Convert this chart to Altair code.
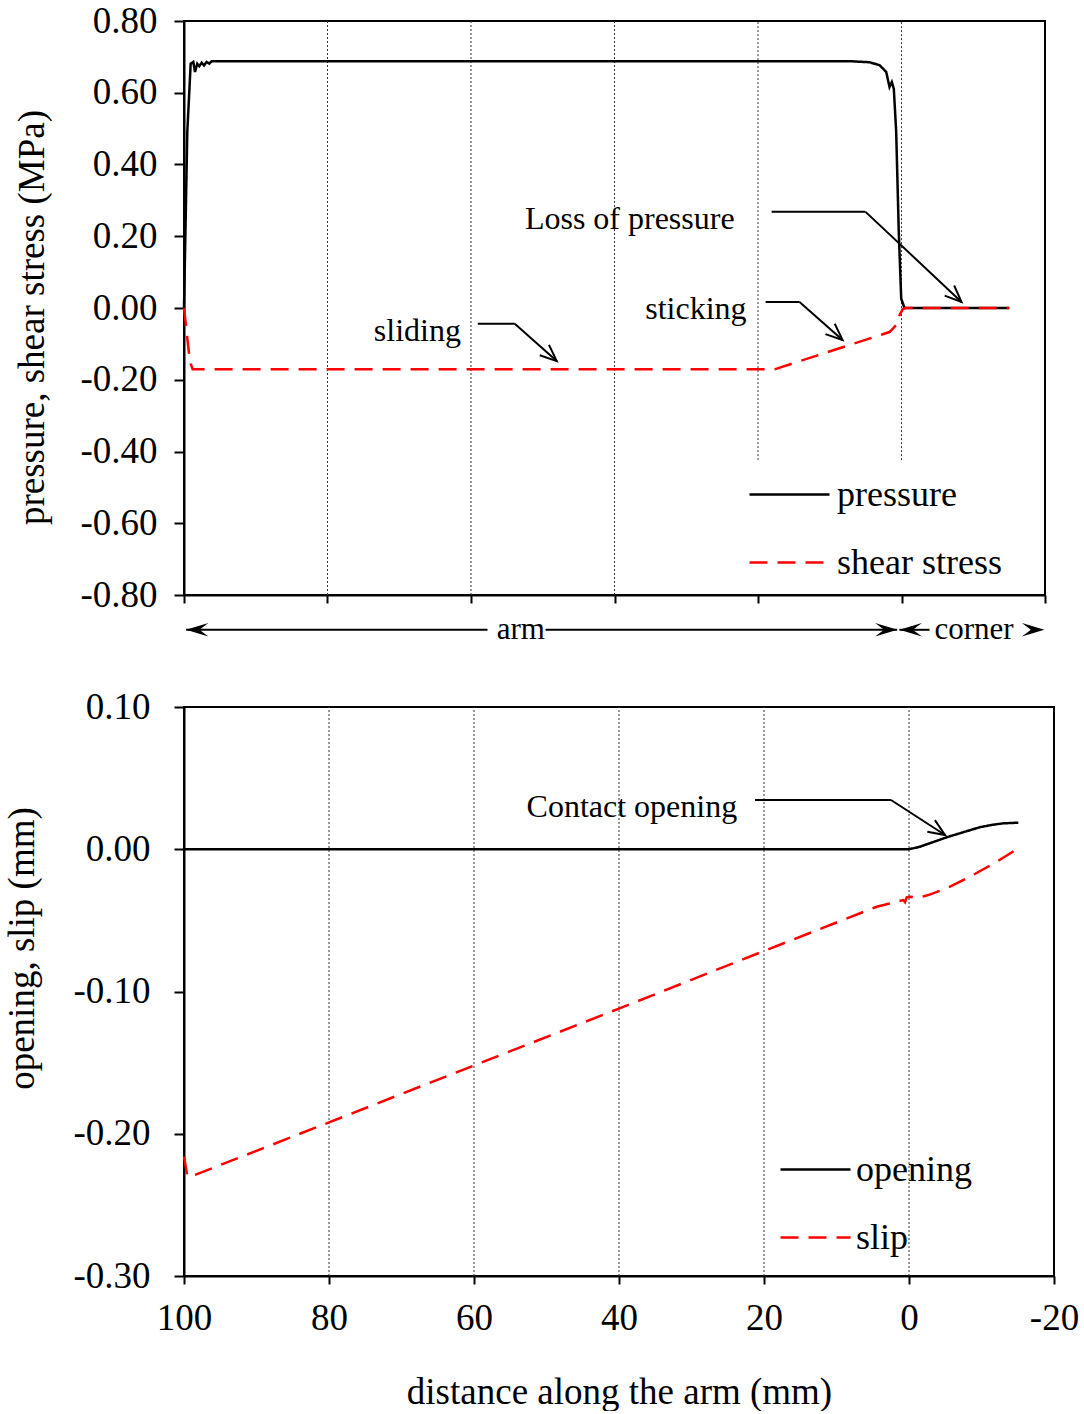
import math
import altair as alt
import pandas as pd

FONT = "Liberation Serif"

# ---------------- data ----------------
# top panel: distance along the arm (mm) vs stress (MPa)
pressure_x = [100, 99.54, 99.07, 98.70, 98.47, 98.15, 97.87, 97.53, 97.21, 96.84, 96.48,
              96.14, 95.45, 7.24, 4.46, 3.06, 2.13, 1.67, 1.35, 1.07, 0.74, 0.38, 0.04,
              -0.42, -15.0]
pressure_y = [0.0, 0.491, 0.681, 0.686, 0.658, 0.681, 0.674, 0.684, 0.676, 0.686, 0.681,
              0.688, 0.688, 0.688, 0.685, 0.677, 0.658, 0.616, 0.630, 0.611, 0.491, 0.212,
              0.026, 0.0, 0.0]
shear_x = [100, 99.30, 99.07, 98.79, 17.7, 1.67, 0.74, 0.28, -0.18, -0.56, -15.04]
shear_y = [0.0, -0.127, -0.155, -0.171, -0.171, -0.067, -0.048, -0.020, -0.003, 0.0, 0.0]

# bottom panel: distance along the arm (mm) vs displacement (mm)
opening_x = [100, 0.0, -1.52, -3.3, -5.2, -7.5, -9.79, -11.5, -13.0, -15.08]
opening_y = [0.0, 0.0, 0.0018, 0.0050, 0.0084, 0.0120, 0.0155, 0.0172, 0.0182, 0.0187]
slip_x = [100, 99.53, 98.5, 80, 60, 40, 20, 4.46, 0.79, 0.55, 0.32, -0.14, -1.28, -2.66,
          -5.2, -8.41, -12.1, -15.08]
slip_y = [-0.216, -0.230, -0.229, -0.192, -0.152, -0.112, -0.0715, -0.0404, -0.0357,
          -0.0372, -0.0338, -0.0334, -0.0341, -0.0322, -0.0275, -0.0193, -0.0088, 0.0007]

top_series = ["pressure", "shear stress"]
bot_series = ["opening", "slip"]
x_ticks = [100, 80, 60, 40, 20, 0, -20]
top_y_ticks = [-0.8, -0.6, -0.4, -0.2, 0.0, 0.2, 0.4, 0.6, 0.8]
bot_y_ticks = [-0.3, -0.2, -0.1, 0.0, 0.1]
grid_x = [80, 60, 40, 20, 0]

# annotations (text, text right x, text y, leader start x, knee x, level y, tip x, tip y)
top_notes = [
    ("Loss of pressure", 23.26, 0.248, 18.1, 5.01, 0.268, -8.36, 0.017),
    ("sticking", 21.6, -0.003, 18.94, 14.21, 0.017, 8.22, -0.089),
    ("sliding", 61.4, -0.064, 59.05, 53.9, -0.044, 48.05, -0.148),
]
bot_notes = [
    ("Contact opening", 23.7, 0.0297, 21.24, 2.48, 0.0346, -4.97, 0.010),
]
# arm / corner range markers below the top panel
range_y = -0.897
arm_segments = [(99.7, 57.7), (49.6, 0.6)]
corner_segments = [(0.3, -3.9)]
range_heads = [(99.72, 180), (0.56, 0), (0.28, 180), (-19.9, 0)]
range_labels = [("arm", 53.06), ("corner", -10.1)]

# ---------------- layout ----------------
TOP_W, TOP_H = 861, 574
BOT_W, BOT_H = 870, 569
TOP_DOM = [-0.8, 0.8]
BOT_DOM = [-0.3, 0.1]

xs = alt.Scale(domain=[-20, 100], reverse=True, nice=False, zero=False)
ys_top = alt.Scale(domain=TOP_DOM, nice=False, zero=False)
ys_bot = alt.Scale(domain=BOT_DOM, nice=False, zero=False)

Y_LABEL = "(datum.value < 0 ? '-' : '') + format(abs(datum.value), '.2f')"
X_LABEL = "(datum.value < 0 ? '-' : '') + format(abs(datum.value), 'd')"

top_x_axis = alt.Axis(values=x_ticks, labels=False, title=None, tickSize=8, grid=False)
top_y_axis = alt.Axis(values=top_y_ticks, labelExpr=Y_LABEL, title="pressure, shear stress (MPa)",
                      tickSize=10, labelPadding=17, grid=False, titleAngle=-90, titleX=-152,
                      titleY=296, titleAlign="center", titleBaseline="middle")
bot_x_axis = alt.Axis(values=x_ticks, labelExpr=X_LABEL, title="distance along the arm (mm)",
                      tickSize=8, labelPadding=16, grid=False, titleY=116,
                      titleBaseline="middle", labelFlush=False)
bot_y_axis = alt.Axis(values=bot_y_ticks, labelExpr=Y_LABEL, title="opening, slip (mm)",
                      tickSize=10, labelPadding=24, grid=False, titleAngle=-90, titleX=-162,
                      titleY=241, titleAlign="center", titleBaseline="middle")


def series_df(pairs):
    rows = []
    for name, xv, yv in pairs:
        for i, (a, b) in enumerate(zip(xv, yv)):
            rows.append({"x": a, "y": b, "series": name, "order": i})
    return pd.DataFrame(rows)


def angle_of(x1, y1, x2, y2, w, h, ydom):
    dxp = -(x2 - x1) * w / 120.0
    dyp = -(y2 - y1) * h / (ydom[1] - ydom[0])
    return math.degrees(math.atan2(dyp, dxp)) % 360


def annotation_layers(notes, w, h, ydom, yscale, xaxis, yaxis, fsize):
    segs, heads, texts = [], [], []
    for (t, tx, ty, sx, kx, ly, px, py) in notes:
        texts.append({"t": t, "x": tx, "y": ty})
        segs.append({"x": sx, "x2": kx, "y": ly, "y2": ly})
        segs.append({"x": kx, "x2": px, "y": ly, "y2": py})
        heads.append({"x": px, "y": py, "a": angle_of(kx, ly, px, py, w, h, ydom)})
    seg = alt.Chart(pd.DataFrame(segs)).mark_rule(color="black", strokeWidth=2).encode(
        x=alt.X("x:Q", scale=xs, axis=xaxis), x2="x2:Q",
        y=alt.Y("y:Q", scale=yscale, axis=yaxis), y2="y2:Q")
    head = alt.Chart(pd.DataFrame(heads)).mark_point(
        shape="M-1,-0.42L0,0L-1,0.42", filled=False, color="black", strokeWidth=2,
        size=1100, opacity=1).encode(
        x=alt.X("x:Q", scale=xs, axis=xaxis), y=alt.Y("y:Q", scale=yscale, axis=yaxis),
        angle=alt.Angle("a:Q", scale=None))
    txt = alt.Chart(pd.DataFrame(texts)).mark_text(
        font=FONT, fontSize=fsize, align="right", baseline="middle", color="black").encode(
        x=alt.X("x:Q", scale=xs, axis=xaxis), y=alt.Y("y:Q", scale=yscale, axis=yaxis),
        text="t:N")
    return [seg, head, txt]


def legend(x, y, length, row_pad, label_off):
    return alt.Legend(orient="none", legendX=x, legendY=y, title=None,
                      symbolType="stroke", symbolSize=length * length,
                      symbolStrokeWidth=2.5, labelFont=FONT, labelFontSize=36,
                      labelOffset=label_off, rowPadding=row_pad, padding=0,
                      labelColor="black", labelLimit=400)


# ---------------- top panel ----------------
df_top = series_df([("pressure", pressure_x, pressure_y), ("shear stress", shear_x, shear_y)])
leg_top = legend(564, 432, 80, 8, 6)
top_lines = alt.Chart(df_top).mark_line(strokeWidth=2.5, strokeCap="butt").encode(
    x=alt.X("x:Q", scale=xs, axis=top_x_axis),
    y=alt.Y("y:Q", scale=ys_top, axis=top_y_axis),
    color=alt.Color("series:N", scale=alt.Scale(domain=top_series, range=["black", "#ff0000"]),
                    legend=leg_top),
    strokeDash=alt.StrokeDash("series:N", scale=alt.Scale(domain=top_series,
                                                           range=[[1, 0], [18, 10]]),
                              legend=leg_top),
    order="order:Q",
)
grid_top = alt.Chart(pd.DataFrame({
    "x": grid_x, "y": [-0.8, -0.8, -0.8, -0.424, -0.424], "y2": [0.8] * 5
})).mark_rule(color="#333333", strokeWidth=1, strokeDash=[2, 2]).encode(
    x=alt.X("x:Q", scale=xs, axis=top_x_axis),
    y=alt.Y("y:Q", scale=ys_top, axis=top_y_axis), y2="y2:Q")

rs = []
for a, b in arm_segments + corner_segments:
    rs.append({"x": a, "x2": b, "y": range_y})
range_rules = alt.Chart(pd.DataFrame(rs)).mark_rule(color="black", strokeWidth=2).encode(
    x=alt.X("x:Q", scale=xs, axis=top_x_axis), x2="x2:Q",
    y=alt.Y("y:Q", scale=ys_top, axis=top_y_axis))
range_head = alt.Chart(pd.DataFrame(
    [{"x": hx, "y": range_y, "a": ha} for hx, ha in range_heads])).mark_point(
    shape="M0,0L-1,-0.3L-0.6,0L-1,0.3Z", filled=True, color="black", size=2000,
    opacity=1).encode(
    x=alt.X("x:Q", scale=xs, axis=top_x_axis), y=alt.Y("y:Q", scale=ys_top, axis=top_y_axis),
    angle=alt.Angle("a:Q", scale=None))
range_text = alt.Chart(pd.DataFrame(
    [{"t": t, "x": lx, "y": range_y} for t, lx in range_labels])).mark_text(
    font=FONT, fontSize=31, baseline="middle", align="center", color="black").encode(
    x=alt.X("x:Q", scale=xs, axis=top_x_axis), y=alt.Y("y:Q", scale=ys_top, axis=top_y_axis),
    text="t:N")

top = alt.layer(
    grid_top, top_lines,
    *annotation_layers(top_notes, TOP_W, TOP_H, TOP_DOM, ys_top, top_x_axis, top_y_axis, 32),
    range_rules, range_head, range_text,
).properties(width=TOP_W, height=TOP_H)

# ---------------- bottom panel ----------------
df_bot = series_df([("opening", opening_x, opening_y), ("slip", slip_x, slip_y)])
leg_bot = legend(595, 426, 70, 13, 4)
bot_lines = alt.Chart(df_bot).mark_line(strokeWidth=2.5, strokeCap="butt").encode(
    x=alt.X("x:Q", scale=xs, axis=bot_x_axis),
    y=alt.Y("y:Q", scale=ys_bot, axis=bot_y_axis),
    color=alt.Color("series:N", scale=alt.Scale(domain=bot_series, range=["black", "#ff0000"]),
                    legend=leg_bot),
    strokeDash=alt.StrokeDash("series:N", scale=alt.Scale(domain=bot_series,
                                                           range=[[1, 0], [18, 10]]),
                              legend=leg_bot),
    order="order:Q",
)
grid_bot = alt.Chart(pd.DataFrame({
    "x": grid_x, "y": [-0.3] * 5, "y2": [0.1] * 5
})).mark_rule(color="#333333", strokeWidth=1, strokeDash=[2, 2]).encode(
    x=alt.X("x:Q", scale=xs, axis=bot_x_axis),
    y=alt.Y("y:Q", scale=ys_bot, axis=bot_y_axis), y2="y2:Q")

bottom = alt.layer(
    grid_bot, bot_lines,
    *annotation_layers(bot_notes, BOT_W, BOT_H, BOT_DOM, ys_bot, bot_x_axis, bot_y_axis, 32),
).properties(width=BOT_W, height=BOT_H)

chart = alt.vconcat(top, bottom, spacing=41).resolve_scale(
    x="independent", y="independent", color="independent", strokeDash="independent"
).resolve_legend(color="independent", strokeDash="independent").configure(
    padding={"left": 1, "top": 1, "right": 0, "bottom": 0}, background="white", font=FONT
).configure_view(stroke="black", strokeWidth=2).configure_axis(
    labelFont=FONT, titleFont=FONT, labelFontSize=37, titleFontSize=37,
    titleFontWeight="normal", labelColor="black", titleColor="black",
    domainColor="black", tickColor="black", domainWidth=2, tickWidth=2,
)

chart.save("out.html", embed_options={"renderer": "svg", "actions": False})
